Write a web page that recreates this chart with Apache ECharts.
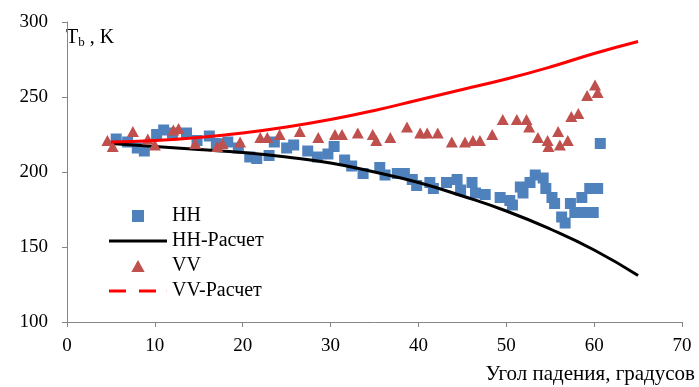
<!DOCTYPE html>
<html>
<head>
<meta charset="utf-8">
<script src="https://cdn.jsdelivr.net/npm/echarts@6/dist/echarts.min.js"></script>
<style>
    html, body { margin: 0; padding: 0; background: #fff; }
    #chart { width: 699px; height: 387px; }
</style>
</head>
<body>
<div id="chart"></div>
<script>
    // измерения (угол, K)
    var hhData = [[5.6,222],[6.9,220],[8.0,216],[8.8,214],[10.2,225],[11.0,228],[12.0,226],[13.6,226],[14.8,221],
        [16.2,224],[17.0,219],[18.3,220],[19.5,216],[20.8,210],[21.6,209],[23.0,211],[23.6,220],[25.0,216],
        [25.8,218],[27.4,214],[28.5,210],[29.7,212],[30.4,217],[31.6,208],[32.4,204],[33.7,199],[35.6,203],
        [36.2,198],[37.6,199],[38.4,199],[39.3,195],[39.8,191],[41.3,193],[41.7,189],[43.2,193],[44.4,195],
        [44.8,188],[46.1,193],[46.5,186],[47.6,185],[49.3,183],[50.4,181],[50.7,178],[51.6,190],[51.9,186],
        [52.7,193],[53.3,198],[54.2,196],[54.5,189],[55.2,183],[55.5,179],[56.3,170],[56.7,166],[57.3,179],
        [57.8,173],[58.6,183],[58.8,173],[59.5,189],[59.9,173],[60.4,189],[60.7,219]]
    var vvData = [[4.6,221],[5.2,217],[7.5,227],[9.2,222],[10.0,218],[12.1,228],[12.7,229],[14.6,219],[17.1,217],
        [17.7,219],[19.7,220],[22.0,223],[22.8,223],[24.2,225],[26.5,227],[28.6,223],[30.5,225],[31.3,225],
        [33.1,226],[34.8,225],[35.2,221],[36.8,223],[38.7,230],[40.2,226],[41.0,226],[42.2,226],[43.8,220],
        [45.3,220],[46.2,221],[47.0,221],[48.4,225],[49.6,235],[51.2,235],[52.3,235],[52.6,230],[53.6,223],
        [54.7,221],[54.8,217],[55.9,227],[56.1,218],[57.0,221],[57.4,237],[58.2,239],[59.2,251],[60.1,258],[60.4,253]]

    // расчет
    var calcAngles = [5, 10, 15, 20, 25, 30, 35, 40, 45, 50, 55, 60, 65]
    var hhCalc = [219, 217, 215, 213, 210, 206, 200, 193, 184, 174, 162, 148, 131]
    var vvCalc = [220, 221, 223, 226, 230, 235, 241, 248, 255, 262, 270, 279, 287]

    var xTicks = [0, 10, 20, 30, 40, 50, 60, 70]
    var yTicks = [100, 150, 200, 250, 300]

    function pairs(xs, ys) {
        return xs.map(function (x, i) { return [x, ys[i]] })
    }

    var font = '"Liberation Serif", "Times New Roman", serif'
    var axisColor = '#868686'

    var myChart = echarts.init(document.getElementById('chart'))
    var option = {
        animation: false,
        backgroundColor: '#fff',
        grid: {left: 67, right: 17, top: 22, bottom: 65},
        legend: {
            orient: 'vertical',
            left: 104,
            top: 201,
            itemWidth: 58,
            itemHeight: 12,
            itemGap: 5,
            symbolKeepAspect: true,
            textStyle: {fontFamily: font, fontSize: 20, color: '#000'},
            data: [
                {name: 'HH', icon: 'path://M0,0h10v10h-10z'},
                {name: 'HH-Расчет', icon: 'path://M0,0h58v3h-58z'},
                {name: 'VV', icon: 'path://M5,0L10,9L0,9z'},
                {name: 'VV-Расчет', icon: 'path://M0,0h17v3h-17z M30,0h17v3h-17z M57.9,0h0.1v3h-0.1z'}
            ]
        },
        xAxis: {
            type: 'value',
            min: xTicks[0],
            max: xTicks[xTicks.length - 1],
            interval: 10,
            splitLine: {show: false},
            axisLine: {onZero: false, lineStyle: {color: axisColor}},
            axisTick: {inside: false, length: 5, lineStyle: {color: axisColor}},
            axisLabel: {fontFamily: font, fontSize: 19, color: '#000', margin: 15}
        },
        yAxis: {
            type: 'value',
            min: yTicks[0],
            max: yTicks[yTicks.length - 1],
            interval: 50,
            splitLine: {show: false},
            axisLine: {show: true, lineStyle: {color: axisColor}},
            axisTick: {show: true, length: 5, lineStyle: {color: axisColor}},
            axisLabel: {fontFamily: font, fontSize: 19, color: '#000', margin: 19}
        },
        graphic: [
            {
                type: 'text', left: 66, top: 28,
                style: {
                    text: '{t|T}{s|b}{t| , K}',
                    rich: {
                        t: {fontFamily: font, fontSize: 20, fill: '#000'},
                        s: {fontFamily: font, fontSize: 13, fill: '#000', padding: [9, 0, 0, 0]}
                    }
                }
            },
            {
                type: 'text', right: 4, top: 364,
                style: {text: 'Угол падения, градусов', fontFamily: font, fontSize: 21, fill: '#000'}
            }
        ],
        series: [
            {
                name: 'HH', type: 'scatter', data: hhData, symbol: 'rect', symbolSize: 11,
                itemStyle: {color: '#4f81bd', opacity: 1}, z: 2
            },
            {
                name: 'HH-Расчет', type: 'line', data: pairs(calcAngles, hhCalc), smooth: true,
                showSymbol: false, color: '#000', lineStyle: {color: '#000', width: 3}, z: 3
            },
            {
                name: 'VV', type: 'scatter', data: vvData, symbol: 'triangle', symbolSize: [12, 11],
                itemStyle: {color: '#c0504d', opacity: 1}, z: 4
            },
            {
                name: 'VV-Расчет', type: 'line', data: pairs(calcAngles, vvCalc), smooth: true,
                showSymbol: false, color: '#ff0000', lineStyle: {color: '#ff0000', width: 3}, z: 5
            }
        ]
    };
    option && myChart.setOption(option);
</script>
</body>
</html>
